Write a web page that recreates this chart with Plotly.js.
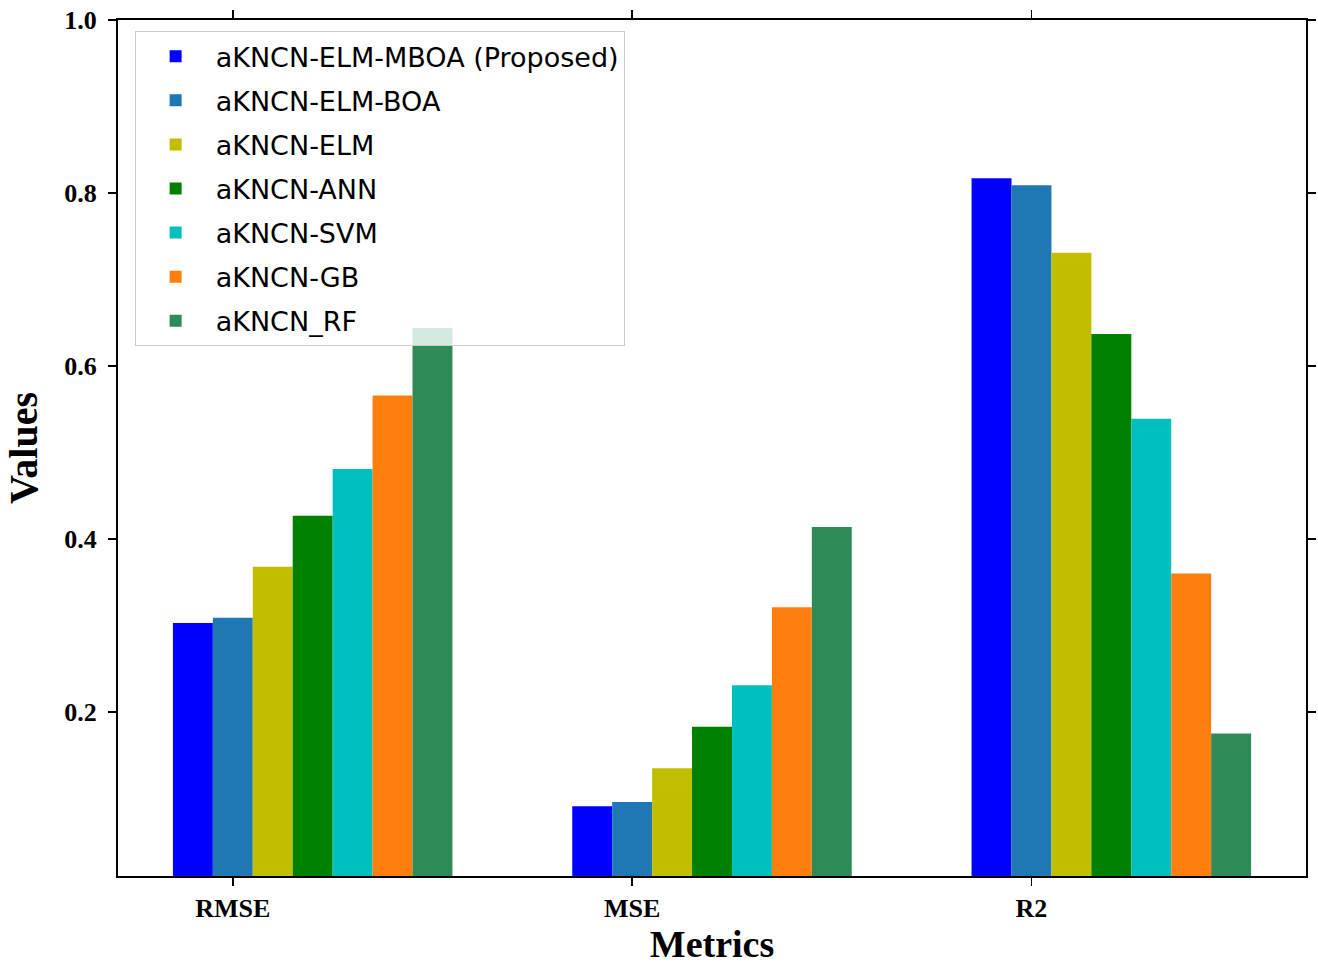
<!DOCTYPE html>
<html>
<head>
<meta charset="utf-8">
<script src="https://cdn.plot.ly/plotly-3.0.1.min.js"></script>
<style>html,body{margin:0;padding:0;background:#fff;}#chart{width:1318px;height:966px;}</style>
</head>
<body>
<div id="chart"></div>
<script>
const categories = ['RMSE', 'MSE', 'R2'];
const seriesNames = ['aKNCN-ELM-MBOA (Proposed)', 'aKNCN-ELM-BOA', 'aKNCN-ELM', 'aKNCN-ANN', 'aKNCN-SVM', 'aKNCN-GB', 'aKNCN_RF'];
const mboa = [0.303, 0.091, 0.817];
const boa  = [0.309, 0.096, 0.809];
const elm  = [0.368, 0.135, 0.731];
const ann  = [0.427, 0.183, 0.637];
const svm  = [0.481, 0.231, 0.539];
const gb   = [0.566, 0.321, 0.360];
const rf   = [0.644, 0.414, 0.175];
const seriesValues = [mboa, boa, elm, ann, svm, gb, rf];
const colors = ['#0000ff', '#1f77b4', '#bfbf00', '#008000', '#00bfbf', '#ff7f0e', '#2e8b57'];
const yTicks = [0.2, 0.4, 0.6, 0.8, 1.0];

const barWidth = 0.1;
const traces = seriesNames.map((name, j) => ({
  type: 'bar',
  name: name,
  x: categories,
  y: seriesValues[j],
  width: barWidth,
  offset: (j - 1.5) * barWidth,
  marker: {color: colors[j], line: {width: 0}},
  legendgroup: 'g' + j
}));

const serif = 'Liberation Serif, Times New Roman, serif';
const layout = {
  width: 1318, height: 966,
  margin: {l: 118, r: 12, t: 20, b: 90},
  paper_bgcolor: '#fff', plot_bgcolor: '#fff',
  barmode: 'overlay',
  showlegend: true,
  legend: {
    x: 0.014, y: 0.987, xanchor: 'left', yanchor: 'top',
    bgcolor: 'rgba(255,255,255,0.8)', bordercolor: '#cccccc', borderwidth: 1,
    font: {family: 'DejaVu Sans, sans-serif', size: 27, color: '#000'},
    tracegroupgap: 6,
    itemwidth: 70
  },
  xaxis: {
    type: 'category',
    range: [-0.2875, 2.6875],
    showline: true, linecolor: '#000', linewidth: 2, mirror: 'ticks',
    ticks: 'outside', ticklen: 8, tickwidth: 1.5, tickcolor: '#000',
    showgrid: false, zeroline: false,
    tickfont: {family: serif, size: 26, color: '#000', weight: 'bold'},
    title: {text: '<b>Metrics</b>', font: {family: serif, size: 38, color: '#000'}, standoff: 8}
  },
  yaxis: {
    range: [0.0104, 1.0],
    tickvals: yTicks, ticktext: yTicks.map(v => v.toFixed(1)),
    showline: true, linecolor: '#000', linewidth: 2, mirror: 'ticks',
    ticks: 'outside', ticklen: 8, tickwidth: 1.5, tickcolor: '#000',
    ticklabelstandoff: 6,
    showgrid: false, zeroline: false,
    tickfont: {family: serif, size: 26, color: '#000', weight: 'bold'},
    title: {text: '<b>Values</b>', font: {family: serif, size: 40, color: '#000'}, standoff: 14}
  }
};

Plotly.newPlot('chart', traces, layout, {displayModeBar: false, staticPlot: true});
</script>
</body>
</html>
